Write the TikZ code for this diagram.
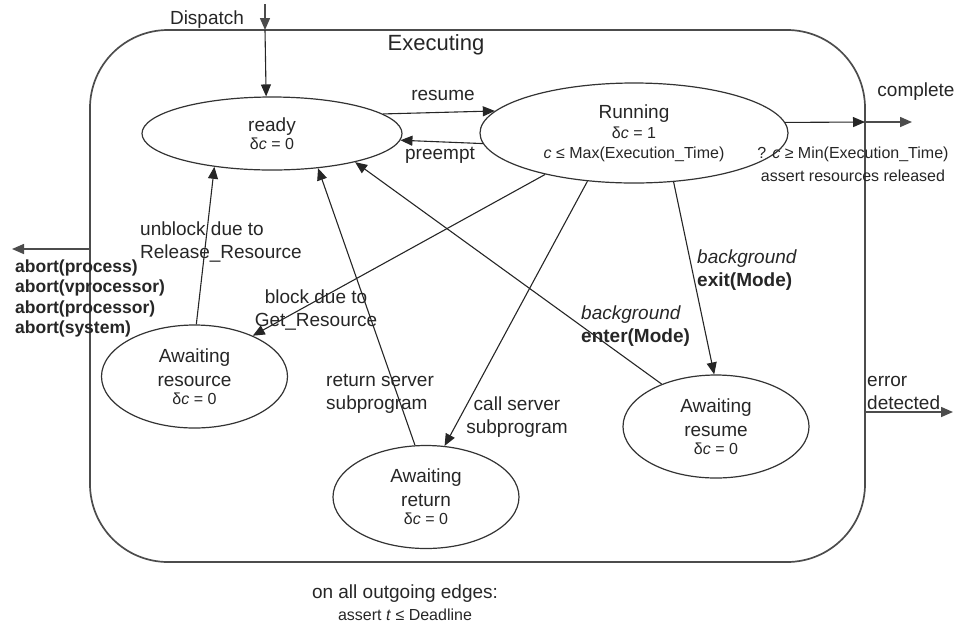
\documentclass[tikz,border=0pt]{standalone}
\usepackage{fontspec}
\setmainfont{Liberation Sans}
\usetikzlibrary{arrows.meta,shapes.geometric}
\begin{document}
\begin{tikzpicture}[x=1pt,y=-1pt,
  ink/.style={text=black!85},
  state/.style={ellipse, draw=black!80, line width=1.2pt, inner sep=0pt,
    align=center, ink, font=\fontsize{16}{18}\selectfont},
  aw/.style={state, minimum width=186pt, minimum height=103pt},
  edge/.style={draw=black!85, line width=1.1pt, -{Triangle[length=12pt,width=10pt]}},
  gate/.style={draw=black!70, line width=1.5pt, -{Triangle[length=12pt,width=10pt]}},
  lbl/.style={ink, font=\fontsize{19}{23}\selectfont, inner sep=0pt},
  small/.style={ink, font=\fontsize{16}{23}\selectfont, inner sep=0pt}]

\useasboundingbox (0,0) rectangle (960,625);

% enclosing superstate
\node[draw=black!70, line width=1.7pt, rounded corners=78pt,
      minimum width=775pt, minimum height=532pt, inner sep=0pt]
      (exec) at (477.5,296) {};
\node[ink, font=\fontsize{22}{24}\selectfont, inner sep=0pt] (execlabel) at (436,45) {Executing};

% states
\node[state, minimum width=260pt, minimum height=73pt] (ready) at (272,133.5)
  {{\fontsize{19}{19}\selectfont ready}\\δ\textit{c} = 0};
\node[state, minimum width=308pt, minimum height=100pt] (running) at (634,133)
  {{\fontsize{19}{19}\selectfont Running}\\[2pt]δ\textit{c} = 1\\[2pt]\textit{c} ≤ Max(Execution\_Time)};
\node[aw] (awres) at (194.5,376.5)
  {{\fontsize{19}{19}\selectfont Awaiting}\\[6pt]{\fontsize{19}{19}\selectfont resource}\\δ\textit{c} = 0};
\node[aw] (awret) at (426,497)
  {{\fontsize{19}{19}\selectfont Awaiting}\\[6pt]{\fontsize{19}{19}\selectfont return}\\δ\textit{c} = 0};
\node[aw] (awresume) at (716,426.5)
  {{\fontsize{19}{19}\selectfont Awaiting}\\[6pt]{\fontsize{19}{19}\selectfont resume}\\δ\textit{c} = 0};

% points where external transitions cross the boundary
\coordinate (dtop)  at (265,4);
\coordinate (dgate) at (265,30);
\coordinate (cgate) at (865,122);
\coordinate (cend)  at (912,122);
\coordinate (agate) at (90,249);
\coordinate (aend)  at (12,249);
\coordinate (egate) at (865,412);
\coordinate (eend)  at (953,412);

% external transitions
\draw[gate] (dtop) -- (dgate);
\draw[edge] (dgate) -- (ready.99);
\draw[edge] (running.4.2) -- (cgate);
\draw[gate] (cgate) -- (cend);
\draw[gate] (agate) -- (aend);
\draw[gate] (egate) -- (eend);

% internal transitions
\draw[edge] (ready.10.7) -- (running.171.9);
\draw[edge] (running.-176.6) -- (ready.-3.85);
\draw[edge] (awres.88) -- (ready.-150);
\draw[edge] (running.-155.4) -- (awres.35);
\draw[edge] (awret.102.3) -- (ready.-37);
\draw[edge] (running.-134) -- (awret.70.2);
\draw[edge] (awresume.142.2) -- (ready.-19);
\draw[edge] (running.-51.9) -- (awresume.92);

% transition labels
\node[lbl] (ldispatch) at (207,20) {Dispatch};
\node[lbl] (lresume) at (443,95) {resume};
\node[lbl] (lpreempt) at (440,155) {preempt};
\node[lbl] (lcomplete) at (916,92) {complete};
\node[small, align=center] (lguard) at (853,164.5)
  {? \textit{c} ≥ Min(Execution\_Time)\\assert resources released};
\node[lbl, align=left, anchor=west] (lunblock) at (140,241.5)
  {unblock due to\\Release\_Resource};
\node[lbl, align=center] (lblock) at (316,309.5) {block due to\\Get\_Resource};
\node[lbl, align=left, anchor=west] (lreturn) at (326,393.5) {return server\\subprogram};
\node[lbl, align=center] (lcall) at (517,417.5) {call server\\subprogram};
\node[lbl, align=left, anchor=west] (lenter) at (581,326.5)
  {\textit{background}\\\textbf{enter(Mode)}};
\node[lbl, align=left, anchor=west] (lexit) at (697,270)
  {\textit{background}\\\textbf{exit(Mode)}};
\node[ink, font=\bfseries\fontsize{17.5}{20.5}\selectfont, align=left, anchor=west,
      inner sep=0pt] (labort) at (15,298.5)
  {abort(process)\\abort(vprocessor)\\abort(processor)\\abort(system)};
\node[lbl, align=left, anchor=west] (lerror) at (867,392.5) {error\\detected};
\node[lbl, align=center, font=\fontsize{19}{22}\selectfont] (lfoot) at (405,603)
  {on all outgoing edges:\\{\fontsize{16}{16}\selectfont assert \textit{t} ≤ Deadline}};
\end{tikzpicture}
\end{document}
